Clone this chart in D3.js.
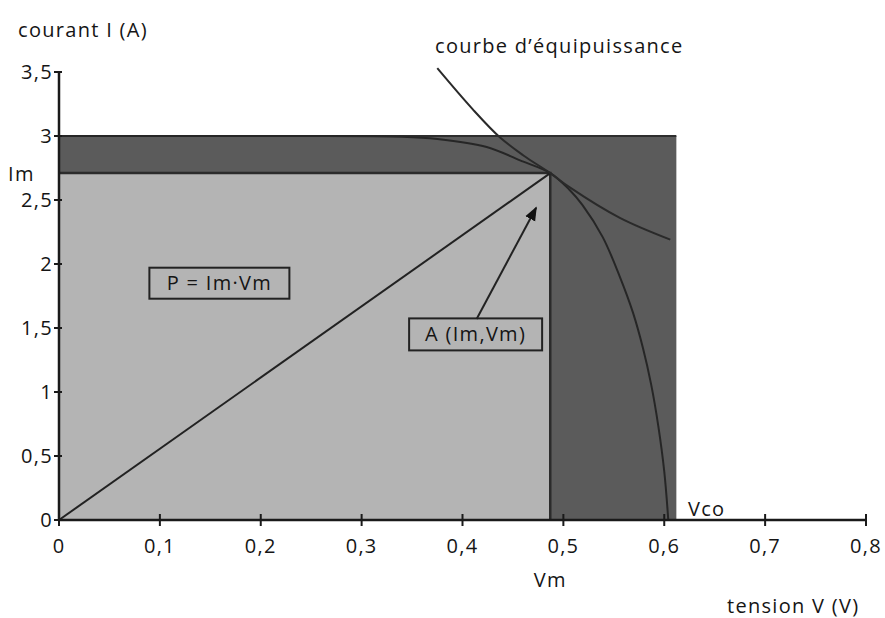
<!DOCTYPE html>
<html>
<head>
<meta charset="utf-8">
<script src="https://cdn.jsdelivr.net/npm/d3@7"></script>
<style>
  body { margin: 0; background: #fff; }
  text { font-family: "Open Sans", "Noto Sans", sans-serif; fill: #151515; font-size: 20px; letter-spacing: 1.3px; }
</style>
</head>
<body>
<svg width="885" height="618"></svg>
<script>
// values (V in volts, I in amperes)
var xTicks = [0, 0.1, 0.2, 0.3, 0.4, 0.5, 0.6, 0.7, 0.8];
var yTicks = [0, 0.5, 1, 1.5, 2, 2.5, 3, 3.5];
var Isc = 3.0, Vrect = 0.612;          // dark rectangle
var Im = 2.71, Vm = 0.487;             // point A
var ivV = [0, 0.2, 0.34, 0.375, 0.424, 0.457, 0.487, 0.506, 0.519, 0.539, 0.556, 0.569, 0.579, 0.587, 0.594, 0.600, 0.604];
var ivI = [3.0, 3.0, 2.995, 2.977, 2.914, 2.81, 2.71, 2.58, 2.46, 2.21, 1.90, 1.62, 1.34, 1.06, 0.74, 0.38, 0];
var isoV = [0.375, 0.41, 0.437, 0.46, 0.487, 0.506, 0.556, 0.606];
var isoI = [3.53, 3.21, 2.99, 2.85, 2.71, 2.60, 2.36, 2.19];

var svg = d3.select("svg"),
	mLeft = 59, mRight = 866, mBottom = 520, mTop = 72;

var x = d3.scaleLinear().domain([0, 0.8]).range([mLeft, mRight]);
var y = d3.scaleLinear().domain([0, 3.5]).range([mBottom, mTop]);

var fmt = function (d) { return d === 0 ? "0" : String(d).replace(".", ","); };

var curve = d3.line().curve(d3.curveCatmullRom)
	.x(function (d) { return x(d[0]); })
	.y(function (d) { return y(d[1]); });

// dark rectangle (Isc x Vco)
svg.append("rect")
	.attr("x", x(0)).attr("y", y(Isc))
	.attr("width", x(Vrect) - x(0)).attr("height", y(0) - y(Isc))
	.attr("fill", "#5b5b5b");
svg.append("line")
	.attr("x1", x(0)).attr("x2", x(Vrect)).attr("y1", y(Isc)).attr("y2", y(Isc))
	.attr("stroke", "#2e2e2e").attr("stroke-width", 2);

// light rectangle P = Im.Vm
svg.append("rect")
	.attr("x", x(0)).attr("y", y(Im))
	.attr("width", x(Vm) - x(0)).attr("height", y(0) - y(Im))
	.attr("fill", "#b4b4b4");
svg.append("polyline")
	.attr("points", [[x(0), y(Im)], [x(Vm), y(Im)], [x(Vm), y(0)]].join(" "))
	.attr("fill", "none").attr("stroke", "#2b2b2b").attr("stroke-width", 2.5);

// diagonal from origin to A
svg.append("line")
	.attr("x1", x(0)).attr("y1", y(0)).attr("x2", x(Vm)).attr("y2", y(Im))
	.attr("stroke", "#222").attr("stroke-width", 2);

// I-V characteristic
svg.append("path")
	.attr("d", curve(ivV.map(function (v, i) { return [v, ivI[i]]; })))
	.attr("fill", "none").attr("stroke", "#262626").attr("stroke-width", 2);

// iso-power curve
svg.append("path")
	.attr("d", curve(isoV.map(function (v, i) { return [v, isoI[i]]; })))
	.attr("fill", "none").attr("stroke", "#2a2a2a").attr("stroke-width", 2);

// axes
svg.append("line")
	.attr("x1", x(0)).attr("x2", x(0.8)).attr("y1", y(0)).attr("y2", y(0))
	.attr("stroke", "#1a1a1a").attr("stroke-width", 2.5);
svg.append("line")
	.attr("x1", x(0)).attr("x2", x(0)).attr("y1", y(0)).attr("y2", y(3.5))
	.attr("stroke", "#1a1a1a").attr("stroke-width", 2.5);

svg.selectAll(".xt").data(xTicks).enter().append("line")
	.attr("x1", x).attr("x2", x)
	.attr("y1", y(0) - 6).attr("y2", y(0) + 6)
	.attr("stroke", "#1a1a1a").attr("stroke-width", 2);
svg.selectAll(".xl").data(xTicks).enter().append("text")
	.attr("x", x).attr("y", 553)
	.attr("text-anchor", "middle")
	.text(fmt);

svg.selectAll(".yt").data(yTicks).enter().append("line")
	.attr("x1", x(0) - 5).attr("x2", x(0) + 3)
	.attr("y1", y).attr("y2", y)
	.attr("stroke", "#1a1a1a").attr("stroke-width", 2);
svg.selectAll(".yl").data(yTicks).enter().append("text")
	.attr("x", 53).attr("y", function (d) { return y(d) + 7; })
	.attr("text-anchor", "end")
	.text(fmt);

// labels
svg.append("text").attr("x", 18).attr("y", 37).text("courant I (A)");
svg.append("text").attr("x", 727).attr("y", 613).text("tension V (V)");
svg.append("text").attr("x", 435).attr("y", 53).text("courbe d’équipuissance");
svg.append("text").attr("x", 8).attr("y", y(Im) + 8).text("Im");
svg.append("text").attr("x", x(Vm)).attr("y", 587).attr("text-anchor", "middle").text("Vm");
svg.append("text").attr("x", 688).attr("y", 516).text("Vco");

// boxed labels
function boxLabel(cx, cy, w, h, txt) {
	svg.append("rect")
		.attr("x", x(cx) - w / 2).attr("y", y(cy) - h / 2)
		.attr("width", w).attr("height", h)
		.attr("fill", "none").attr("stroke", "#222").attr("stroke-width", 2);
	svg.append("text")
		.attr("x", x(cx)).attr("y", y(cy) + 7)
		.attr("text-anchor", "middle")
		.text(txt);
}
boxLabel(0.159, 1.85, 140, 31, "P = Im·Vm");
boxLabel(0.413, 1.45, 133, 32, "A (Im,Vm)");

// arrow from the A label to the point
svg.append("defs").append("marker")
	.attr("id", "arr").attr("viewBox", "0 0 10 10")
	.attr("refX", 9).attr("refY", 5)
	.attr("markerWidth", 7).attr("markerHeight", 7)
	.attr("orient", "auto")
	.append("path").attr("d", "M0,1 L10,5 L0,9 Z").attr("fill", "#111");
svg.append("line")
	.attr("x1", x(0.414)).attr("y1", y(1.57))
	.attr("x2", x(0.473)).attr("y2", y(2.44))
	.attr("stroke", "#222").attr("stroke-width", 2)
	.attr("marker-end", "url(#arr)");
</script>
</body>
</html>
